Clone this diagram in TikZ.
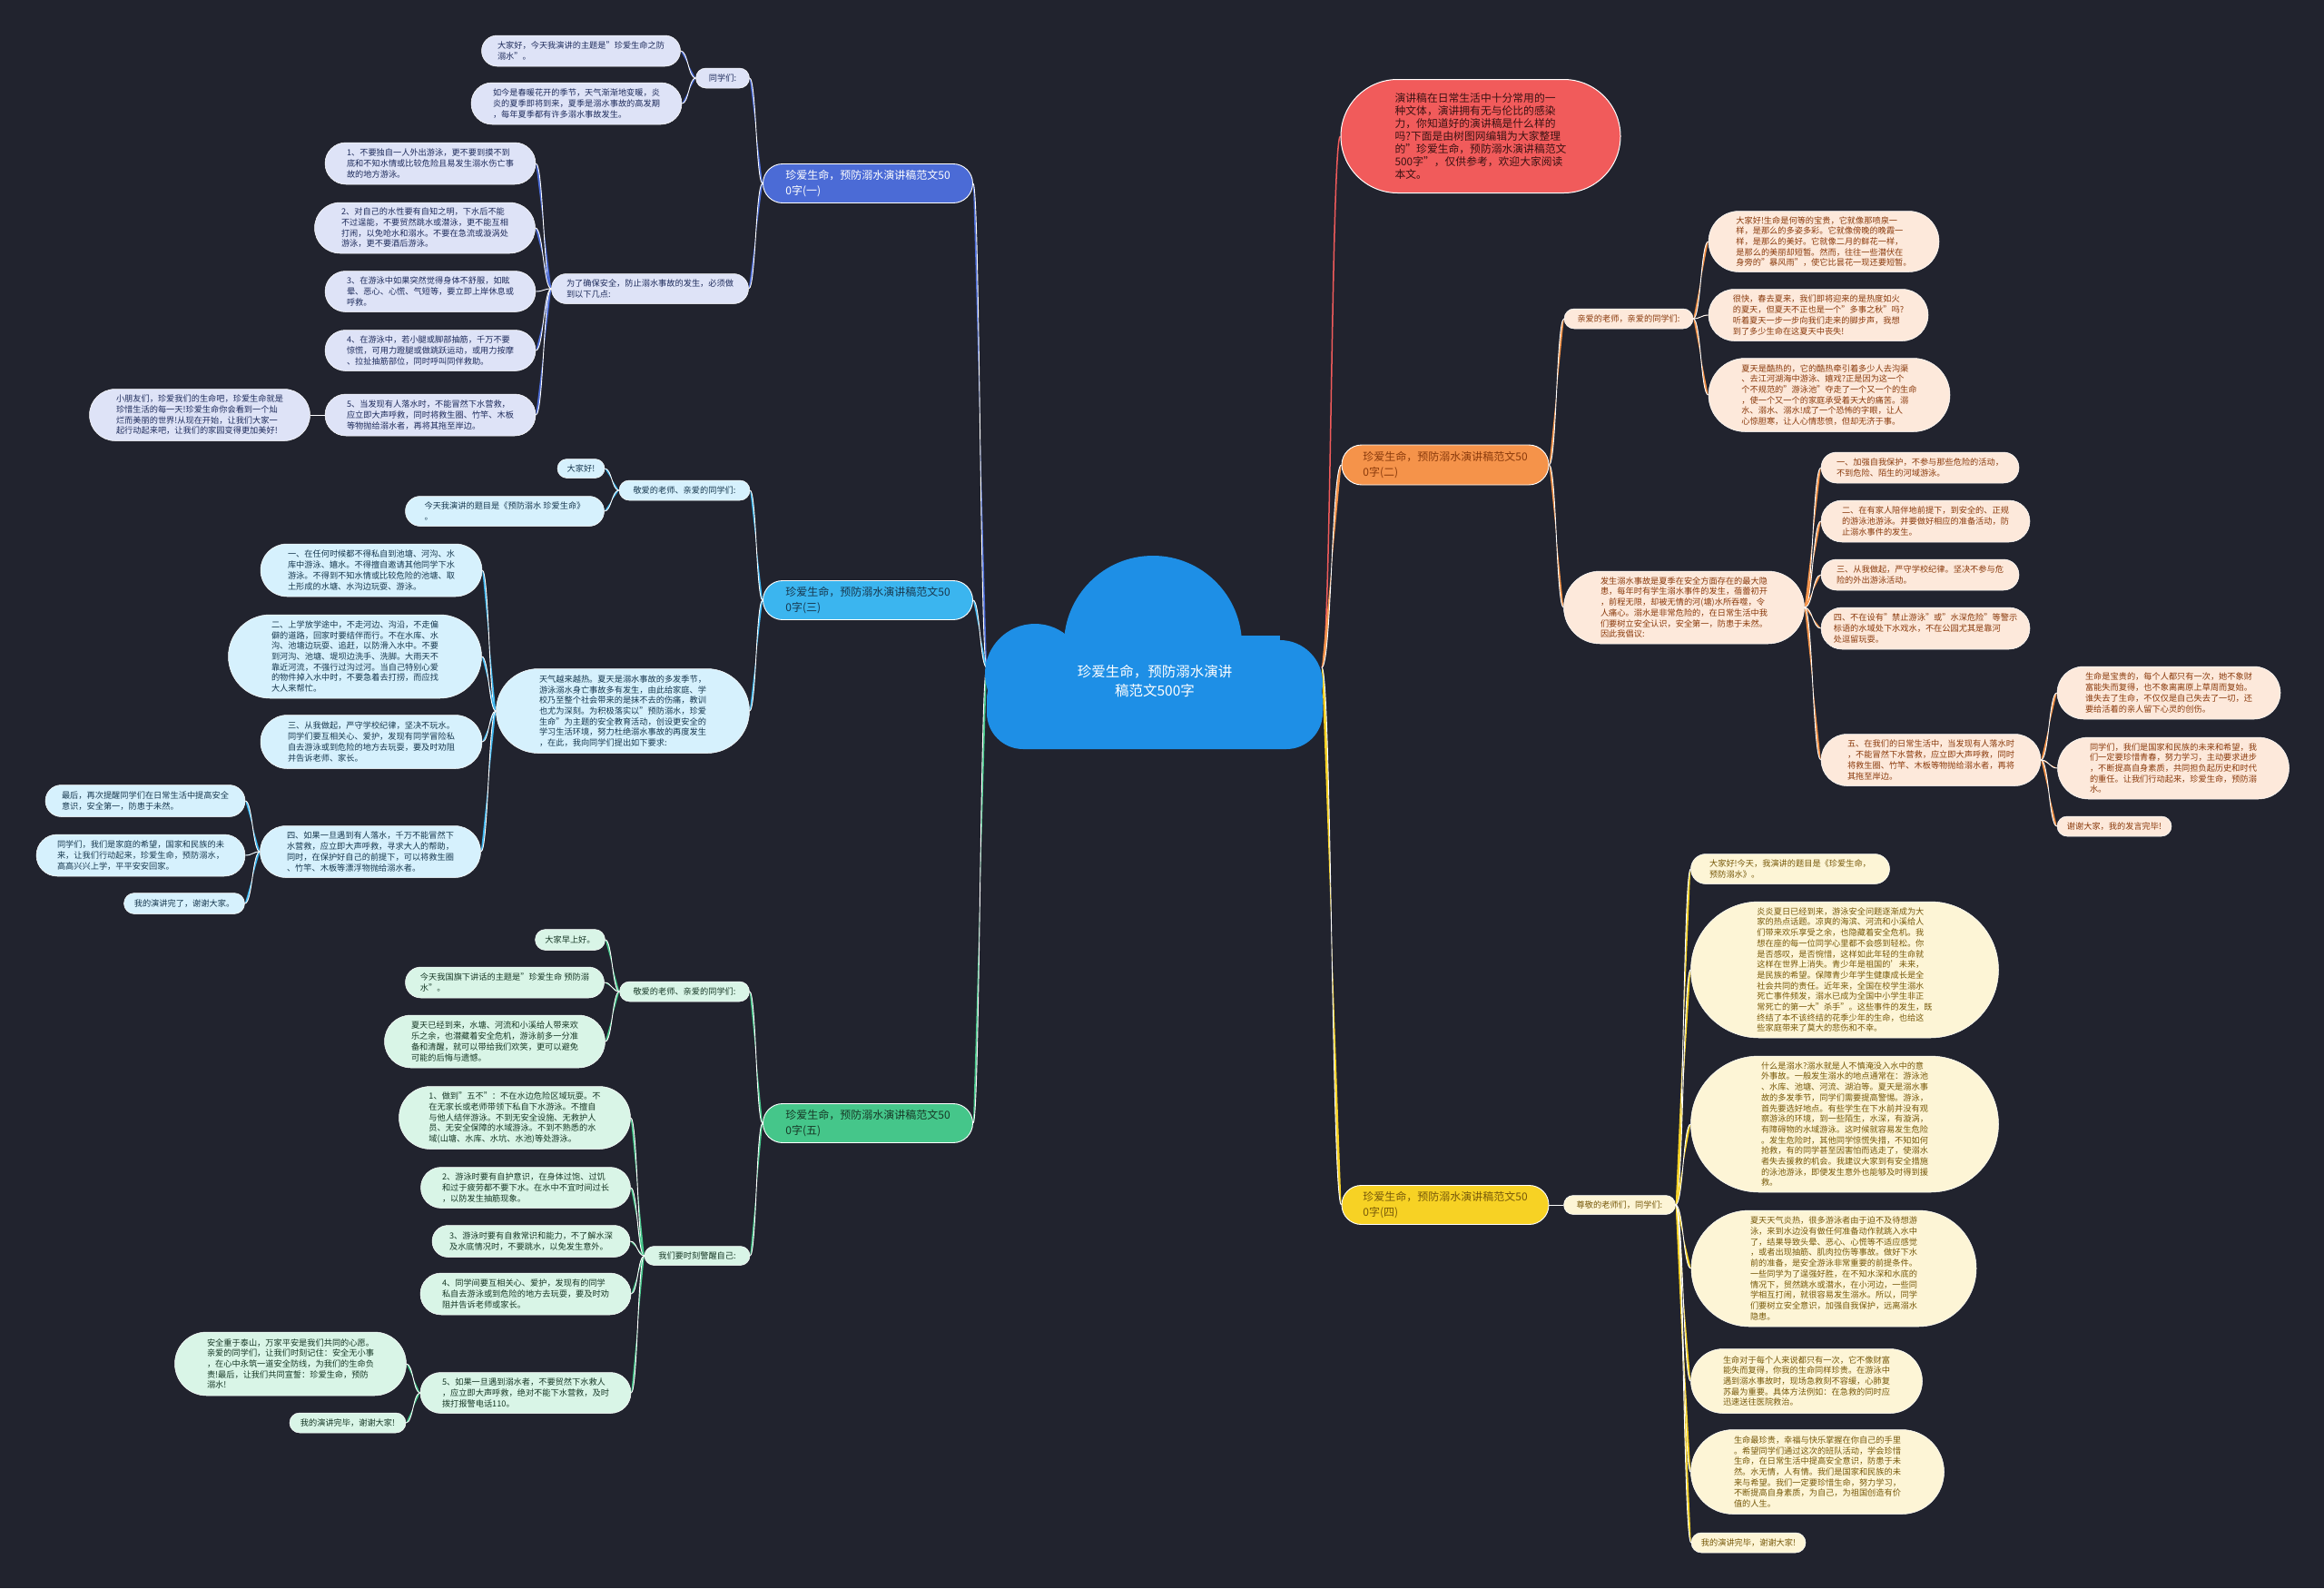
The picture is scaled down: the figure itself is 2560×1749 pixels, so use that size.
\documentclass[tikz,border=0pt]{standalone}
\usepackage{fontspec}
\setmainfont{Noto Sans CJK SC}
\usetikzlibrary{calc}
\definecolor{bg}{HTML}{21232E}
\definecolor{cloudc}{HTML}{1E8FE6}
\definecolor{redf}{HTML}{F15B5B}
\definecolor{redt}{HTML}{3A1212}
\definecolor{hA}{HTML}{4B6BD6}\definecolor{fA}{HTML}{DEE3F7}\definecolor{tA}{HTML}{1F2C5C}
\definecolor{hC}{HTML}{3BB5EF}\definecolor{fC}{HTML}{D6F1FD}\definecolor{tC}{HTML}{17384F}
\definecolor{hE}{HTML}{45C68A}\definecolor{fE}{HTML}{D9F5E7}\definecolor{tE}{HTML}{173826}
\definecolor{hB}{HTML}{F5934A}\definecolor{fB}{HTML}{FDE9DB}\definecolor{tB}{HTML}{8A3A0C}
\definecolor{hD}{HTML}{F7D224}\definecolor{fD}{HTML}{FDF5D6}\definecolor{tD}{HTML}{77590A}
\pgfdeclarelayer{back}\pgfdeclarelayer{lines}
\pgfsetlayers{back,lines,main}
\tikzset{
  base/.style={align=left, inner sep=0pt, draw=white, line width=0.5pt},
  txt/.style={font=\fontsize{9.2}{11.7}\selectfont},
  tA/.style={base, txt, fill=fA, text=tA},
  tC/.style={base, txt, fill=fC, text=tC},
  tE/.style={base, txt, fill=fE, text=tE},
  tB/.style={base, txt, fill=fB, text=tB},
  tD/.style={base, txt, fill=fD, text=tD},
  hdr/.style={base, line width=0.9pt, font=\fontsize{12}{16.5}\selectfont},
  hA/.style={hdr, fill=hA, text=white},
  hC/.style={hdr, fill=hC, text=tC},
  hE/.style={hdr, fill=hE, text=tE},
  hB/.style={hdr, fill=hB, text=tB},
  hD/.style={hdr, fill=hD, text=tD},
  intro/.style={base, line width=1pt, fill=redf, text=redt, font=\fontsize{11.8}{14}\selectfont},
  conn/.style={line width=1.5pt},
}
\newcommand{\nd}[7]{\node[#6, minimum width=#4pt, minimum height=#5pt, rounded corners=#5*0.5pt] (#1) at (#2,#3) {#7};}
\newcommand{\cn}[3]{\coordinate (cnm) at ($(#2)!0.5!(#3)$);\draw[conn,#1] (#2) .. controls (cnm |- #2) and (cnm |- #3) .. (#3);}
\begin{document}
\begin{tikzpicture}[x=1pt,y=-1pt]
\begin{pgfonlayer}{back}
\fill[bg] (0,0) rectangle (2560,1749);
\end{pgfonlayer}
% cloud
\fill[cloudc] (1270,710) circle[radius=98pt];
\fill[cloudc] (1140,742) circle[radius=55pt];
\fill[cloudc] (1410,752) circle[radius=47pt];
\fill[cloudc, rounded corners=40pt] (1087,730) rectangle (1457,825);
\fill[cloudc] (1140,700) rectangle (1410,780);
\node[font=\fontsize{15.5}{21}\selectfont, text=white, align=center] (root) at (1272,750) {珍爱生命，预防溺水演讲\\稿范文500字};
\coordinate (rootL) at (1087,735);
\coordinate (rootR) at (1456,735);

% intro
\nd{intro}{1631}{150}{308}{125}{intro}{演讲稿在日常生活中十分常用的一\\种文体，演讲拥有无与伦比的感染\\力，你知道好的演讲稿是什么样的\\吗?下面是由树图网编辑为大家整理\\的"珍爱生命，预防溺水演讲稿范文\\500字"，仅供参考，欢迎大家阅读\\本文。}

% ---------- branch 1
\nd{b1}{956}{202}{231}{43}{hA}{珍爱生命，预防溺水演讲稿范文50\\0字(一)}
\nd{n1a}{796}{86}{59}{22}{tA}{同学们:}
\nd{n1a1}{640}{56}{219}{34}{tA}{大家好，今天我演讲的主题是"珍爱生命之防\\溺水"。}
\nd{n1a2}{635}{114}{232}{46}{tA}{如今是春暖花开的季节，天气渐渐地变暖，炎\\炎的夏季即将到来，夏季是溺水事故的高发期\\，每年夏季都有许多溺水事故发生。}
\nd{n1b}{716}{318}{217}{33}{tA}{为了确保安全，防止溺水事故的发生，必须做\\到以下几点:}
\nd{n1b1}{474}{180}{232}{46}{tA}{1、不要独自一人外出游泳，更不要到摸不到\\底和不知水情或比较危险且易发生溺水伤亡事\\故的地方游泳。}
\nd{n1b2}{468}{251}{243}{56}{tA}{2、对自己的水性要有自知之明，下水后不能\\不过逞能，不要贸然跳水或潜泳，更不能互相\\打闹，以免呛水和溺水。不要在急流或漩涡处\\游泳，更不要酒后游泳。}
\nd{n1b3}{474}{321}{232}{45}{tA}{3、在游泳中如果突然觉得身体不舒服，如眩\\晕、恶心、心慌、气短等，要立即上岸休息或\\呼救。}
\nd{n1b4}{474}{386}{232}{45}{tA}{4、在游泳中，若小腿或脚部抽筋，千万不要\\惊慌，可用力蹬腿或做跳跃运动，或用力按摩\\、拉扯抽筋部位，同时呼叫同伴救助。}
\nd{n1b5}{474}{457}{232}{46}{tA}{5、当发现有人落水时，不能冒然下水营救，\\应立即大声呼救，同时将救生圈、竹竿、木板\\等物抛给溺水者，再将其拖至岸边。}
\nd{n1c}{220}{457}{243}{57}{tA}{小朋友们，珍爱我们的生命吧，珍爱生命就是\\珍惜生活的每一天!珍爱生命你会看到一个灿\\烂而美丽的世界!从现在开始，让我们大家一\\起行动起来吧，让我们的家园变得更加美好!}

% ---------- branch 3
\nd{b3}{956}{661}{231}{43}{hC}{珍爱生命，预防溺水演讲稿范文50\\0字(三)}
\nd{n3a}{754}{540}{144}{22}{tC}{敬爱的老师、亲爱的同学们:}
\nd{n3a1}{640}{516}{52}{21}{tC}{大家好!}
\nd{n3a2}{556}{563}{219}{33}{tC}{今天我演讲的题目是《预防溺水 珍爱生命》\\。}
\nd{n3b}{686}{783}{279}{93}{tC}{天气越来越热。夏天是溺水事故的多发季节，\\游泳溺水身亡事故多有发生，由此给家庭、学\\校乃至整个社会带来的是抹不去的伤痛，教训\\也尤为深刻。为积极落实以"预防溺水，珍爱\\生命"为主题的安全教育活动，创设更安全的\\学习生活环境，努力杜绝溺水事故的再度发生\\，在此，我向同学们提出如下要求:}
\nd{n3b1}{409}{628}{244}{58}{tC}{一、在任何时候都不得私自到池塘、河沟、水\\库中游泳、嬉水。不得擅自邀请其他同学下水\\游泳。不得到不知水情或比较危险的池塘、取\\土形成的水塘、水沟边玩耍、游泳。}
\nd{n3b2}{391}{723}{279}{92}{tC}{二、上学放学途中，不走河边、沟沿，不走偏\\僻的道路，回家时要结伴而行。不在水库、水\\沟、池塘边玩耍、追赶，以防滑入水中。不要\\到河沟、池塘、堤坝边洗手、洗脚。大雨天不\\靠近河流，不强行过沟过河。当自己特别心爱\\的物件掉入水中时，不要急着去打捞，而应找\\大人来帮忙。}
\nd{n3b3}{409}{817}{244}{59}{tC}{三、从我做起，严守学校纪律，坚决不玩水。\\同学们要互相关心、爱护，发现有同学冒险私\\自去游泳或到危险的地方去玩耍，要及时劝阻\\并告诉老师、家长。}
\nd{n3b4}{408}{938}{243}{57}{tC}{四、如果一旦遇到有人落水，千万不能冒然下\\水营救，应立即大声呼救，寻求大人的帮助，\\同时，在保护好自己的前提下，可以将救生圈\\、竹竿、木板等漂浮物抛给溺水者。}
\nd{n3c1}{160}{882}{220}{35}{tC}{最后，再次提醒同学们在日常生活中提高安全\\意识，安全第一，防患于未然。}
\nd{n3c2}{155}{942}{230}{46}{tC}{同学们，我们是家庭的希望，国家和民族的未\\来，让我们行动起来，珍爱生命，预防溺水，\\高高兴兴上学，平平安安回家。}
\nd{n3c3}{203}{995}{133}{23}{tC}{我的演讲完了，谢谢大家。}

% ---------- branch 5
\nd{b5}{956}{1237}{231}{43}{hE}{珍爱生命，预防溺水演讲稿范文50\\0字(五)}
\nd{n5a}{754}{1092}{143}{22}{tE}{敬爱的老师、亲爱的同学们:}
\nd{n5a1}{628}{1035}{77}{23}{tE}{大家早上好。}
\nd{n5a2}{556}{1082}{219}{34}{tE}{今天我国旗下讲话的主题是"珍爱生命 预防溺\\水"。}
\nd{n5a3}{545}{1147}{243}{58}{tE}{夏天已经到来，水塘、河流和小溪给人带来欢\\乐之余，也潜藏着安全危机，游泳前多一分准\\备和清醒，就可以带给我们欢笑，更可以避免\\可能的后悔与遗憾。}
\nd{n5b}{768}{1383}{116}{21}{tE}{我们要时刻警醒自己:}
\nd{n5b1}{567}{1231}{255}{69}{tE}{1、做到"五不"：不在水边危险区域玩耍。不\\在无家长或老师带领下私自下水游泳。不擅自\\与他人结伴游泳。不到无安全设施、无救护人\\员、无安全保障的水域游泳。不到不熟悉的水\\域(山塘、水库、水坑、水池)等处游泳。}
\nd{n5b2}{579}{1308}{231}{45}{tE}{2、游泳时要有自护意识，在身体过饱、过饥\\和过于疲劳都不要下水。在水中不宜时间过长\\，以防发生抽筋现象。}
\nd{n5b3}{585}{1367}{218}{35}{tE}{3、游泳时要有自救常识和能力，不了解水深\\及水底情况时，不要跳水，以免发生意外。}
\nd{n5b4}{579}{1425}{232}{46}{tE}{4、同学间要互相关心、爱护，发现有的同学\\私自去游泳或到危险的地方去玩耍，要及时劝\\阻并告诉老师或家长。}
\nd{n5b5}{579}{1534}{232}{45}{tE}{5、如果一旦遇到溺水者，不要贸然下水救人\\，应立即大声呼救，绝对不能下水营救，及时\\拨打报警电话110。}
\nd{n5c1}{320}{1502}{255}{70}{tE}{安全重于泰山，万家平安是我们共同的心愿。\\亲爱的同学们，让我们时刻记住：安全无小事\\，在心中永筑一道安全防线，为我们的生命负\\责!最后，让我们共同宣誓：珍爱生命，预防\\溺水!}
\nd{n5c2}{383}{1567}{128}{22}{tE}{我的演讲完毕，谢谢大家!}

% ---------- branch 2
\nd{b2}{1592}{512}{228}{44}{hB}{珍爱生命，预防溺水演讲稿范文50\\0字(二)}
\nd{n2a}{1794}{351}{142}{22}{tB}{亲爱的老师，亲爱的同学们:}
\nd{n2a1}{2009}{266}{254}{67}{tB}{大家好!生命是何等的宝贵，它就像那喷泉一\\样，是那么的多姿多彩。它就像傍晚的晚霞一\\样，是那么的美好。它就像二月的鲜花一样，\\是那么的美丽却短暂。然而，往往一些潜伏在\\身旁的"暴风雨"，使它比昙花一现还要短暂。}
\nd{n2a2}{2003}{347}{242}{57}{tB}{很快，春去夏来，我们即将迎来的是热度如火\\的夏天，但夏天不正也是一个"多事之秋"吗?\\听着夏天一步一步向我们走来的脚步声，我想\\到了多少生命在这夏天中丧失!}
\nd{n2a3}{2015}{435}{266}{81}{tB}{夏天是酷热的，它的酷热牵引着多少人去沟渠\\、去江河湖海中游泳、嬉戏?正是因为这一个\\个不规范的"游泳池"夺走了一个又一个的生命\\，使一个又一个的家庭承受着天大的痛苦。溺\\水、溺水、溺水!成了一个恐怖的字眼，让人\\心惊胆寒，让人心情悲愤，但却无济于事。}
\nd{n2b}{1855}{669}{265}{80}{tB}{发生溺水事故是夏季在安全方面存在的最大隐\\患，每年时有学生溺水事件的发生，蓓蕾初开\\，前程无限，却被无情的河(塘)水所吞噬，令\\人痛心。溺水是非常危险的，在日常生活中我\\们要树立安全认识，安全第一，防患于未然。\\因此我倡议:}
\nd{n2b1}{2115}{515}{218}{34}{tB}{一、加强自我保护，不参与那些危险的活动，\\不到危险、陌生的河域游泳。}
\nd{n2b2}{2121}{574}{230}{46}{tB}{二、在有家人陪伴地前提下，到安全的、正规\\的游泳池游泳。并要做好相应的准备活动，防\\止溺水事件的发生。}
\nd{n2b3}{2115}{633}{218}{34}{tB}{三、从我做起，严守学校纪律。坚决不参与危\\险的外出游泳活动。}
\nd{n2b4}{2121}{692}{230}{46}{tB}{四、不在设有"禁止游泳"或"水深危险"等警示\\标语的水域处下水戏水，不在公园尤其是靠河\\处逗留玩耍。}
\nd{n2b5}{2127}{837}{242}{57}{tB}{五、在我们的日常生活中，当发现有人落水时\\，不能冒然下水营救，应立即大声呼救，同时\\将救生圈、竹竿、木板等物抛给溺水者，再将\\其拖至岸边。}
\nd{n2c1}{2389}{763}{246}{58}{tB}{生命是宝贵的，每个人都只有一次，她不象财\\富能失而复得，也不象离离原上草周而复始。\\谁失去了生命，不仅仅是自己失去了一切，还\\要给活着的亲人留下心灵的创伤。}
\nd{n2c2}{2394}{846}{255}{68}{tB}{同学们，我们是国家和民族的未来和希望，我\\们一定要珍惜青春，努力学习，主动要求进步\\，不断提高自身素质，共同担负起历史和时代\\的重任。让我们行动起来，珍爱生命，预防溺\\水。}
\nd{n2c3}{2329}{910}{126}{22}{tB}{谢谢大家，我的发言完毕!}

% ---------- branch 4
\nd{b4}{1592}{1327}{228}{43}{hD}{珍爱生命，预防溺水演讲稿范文50\\0字(四)}
\nd{n4a}{1784}{1327}{123}{21}{tD}{尊敬的老师们，同学们:}
\nd{n4a1}{1972}{957}{219}{33}{tD}{大家好!今天，我演讲的题目是《珍爱生命，\\预防溺水》。}
\nd{n4a2}{2032}{1068}{339}{150}{tD}{炎炎夏日已经到来，游泳安全问题逐渐成为大\\家的热点话题。凉爽的海滨、河流和小溪给人\\们带来欢乐享受之余，也隐藏着安全危机。我\\想在座的每一位同学心里都不会感到轻松。你\\是否感叹，是否惋惜，这样如此年轻的生命就\\这样在世界上消失。青少年是祖国的'未来，\\是民族的希望。保障青少年学生健康成长是全\\社会共同的责任。近年来，全国在校学生溺水\\死亡事件频发，溺水已成为全国中小学生非正\\常死亡的第一大"杀手"。这些事件的发生，既\\终结了本不该终结的花季少年的生命，也给这\\些家庭带来了莫大的悲伤和不幸。}
\nd{n4a3}{2032}{1238}{339}{150}{tD}{什么是溺水?溺水就是人不慎淹没入水中的意\\外事故。一般发生溺水的地点通常在：游泳池\\、水库、池塘、河流、湖泊等。夏天是溺水事\\故的多发季节，同学们需要提高警惕。游泳，\\首先要选好地点。有些学生在下水前并没有观\\察游泳的环境，到一些陌生，水深，有漩涡，\\有障碍物的水域游泳。这时候就容易发生危险\\。发生危险时，其他同学惊慌失措，不知如何\\抢救，有的同学甚至因害怕而逃走了，使溺水\\者失去援救的机会。我建议大家到有安全措施\\的泳池游泳，即便发生意外也能够及时得到援\\救。}
\nd{n4a4}{2020}{1397}{314}{128}{tD}{夏天天气炎热，很多游泳者由于迫不及待想游\\泳，来到水边没有做任何准备动作就跳入水中\\了，结果导致头晕、恶心、心慌等不适应感觉\\，或者出现抽筋、肌肉拉伤等事故。做好下水\\前的准备，是安全游泳非常重要的前提条件。\\一些同学为了逞强好胜，在不知水深和水底的\\情况下，贸然跳水或潜水，在小河边，一些同\\学相互打闹，就很容易发生溺水。所以，同学\\们要树立安全意识，加强自我保护，远离溺水\\隐患。}
\nd{n4a5}{1990}{1521}{255}{71}{tD}{生命对于每个人来说都只有一次，它不像财富\\能失而复得，你我的生命同样珍贵。在游泳中\\遇到溺水事故时，现场急救刻不容缓，心肺复\\苏最为重要。具体方法例如：在急救的同时应\\迅速送往医院救治。}
\nd{n4a6}{2002}{1621}{279}{93}{tD}{生命最珍贵，幸福与快乐掌握在你自己的手里\\。希望同学们通过这次的班队活动，学会珍惜\\生命，在日常生活中提高安全意识，防患于未\\然。水无情，人有情。我们是国家和民族的未\\来与希望。我们一定要珍惜生命，努力学习，\\不断提高自身素质，为自己，为祖国创造有价\\值的人生。}
\nd{n4a7}{1926}{1699}{126}{22}{tD}{我的演讲完毕，谢谢大家!}

% ---------- connectors
\begin{pgfonlayer}{lines}
\cn{redf}{rootR}{intro.west}
\cn{hB}{rootR}{b2.west}
\cn{hD}{rootR}{b4.west}
\cn{hA}{rootL}{b1.east}
\cn{hC}{rootL}{b3.east}
\cn{hE}{rootL}{b5.east}
% b1
\cn{hA}{b1.west}{n1a.east}
\cn{hA}{b1.west}{n1b.east}
\cn{hA}{n1a.west}{n1a1.east}
\cn{hA}{n1a.west}{n1a2.east}
\cn{hA}{n1b.west}{n1b1.east}
\cn{hA}{n1b.west}{n1b2.east}
\cn{hA}{n1b.west}{n1b3.east}
\cn{hA}{n1b.west}{n1b4.east}
\cn{hA}{n1b.west}{n1b5.east}
\cn{hA}{n1b5.west}{n1c.east}
% b3
\cn{hC}{b3.west}{n3a.east}
\cn{hC}{b3.west}{n3b.east}
\cn{hC}{n3a.west}{n3a1.east}
\cn{hC}{n3a.west}{n3a2.east}
\cn{hC}{n3b.west}{n3b1.east}
\cn{hC}{n3b.west}{n3b2.east}
\cn{hC}{n3b.west}{n3b3.east}
\cn{hC}{n3b.west}{n3b4.east}
\cn{hC}{n3b4.west}{n3c1.east}
\cn{hC}{n3b4.west}{n3c2.east}
\cn{hC}{n3b4.west}{n3c3.east}
% b5
\cn{hE}{b5.west}{n5a.east}
\cn{hE}{b5.west}{n5b.east}
\cn{hE}{n5a.west}{n5a1.east}
\cn{hE}{n5a.west}{n5a2.east}
\cn{hE}{n5a.west}{n5a3.east}
\cn{hE}{n5b.west}{n5b1.east}
\cn{hE}{n5b.west}{n5b2.east}
\cn{hE}{n5b.west}{n5b3.east}
\cn{hE}{n5b.west}{n5b4.east}
\cn{hE}{n5b.west}{n5b5.east}
\cn{hE}{n5b5.west}{n5c1.east}
\cn{hE}{n5b5.west}{n5c2.east}
% b2
\cn{hB}{b2.east}{n2a.west}
\cn{hB}{b2.east}{n2b.west}
\cn{hB}{n2a.east}{n2a1.west}
\cn{hB}{n2a.east}{n2a2.west}
\cn{hB}{n2a.east}{n2a3.west}
\cn{hB}{n2b.east}{n2b1.west}
\cn{hB}{n2b.east}{n2b2.west}
\cn{hB}{n2b.east}{n2b3.west}
\cn{hB}{n2b.east}{n2b4.west}
\cn{hB}{n2b.east}{n2b5.west}
\cn{hB}{n2b5.east}{n2c1.west}
\cn{hB}{n2b5.east}{n2c2.west}
\cn{hB}{n2b5.east}{n2c3.west}
% b4
\cn{hD}{b4.east}{n4a.west}
\cn{hD}{n4a.east}{n4a1.west}
\cn{hD}{n4a.east}{n4a2.west}
\cn{hD}{n4a.east}{n4a3.west}
\cn{hD}{n4a.east}{n4a4.west}
\cn{hD}{n4a.east}{n4a5.west}
\cn{hD}{n4a.east}{n4a6.west}
\cn{hD}{n4a.east}{n4a7.west}
\end{pgfonlayer}
\end{tikzpicture}
\end{document}
